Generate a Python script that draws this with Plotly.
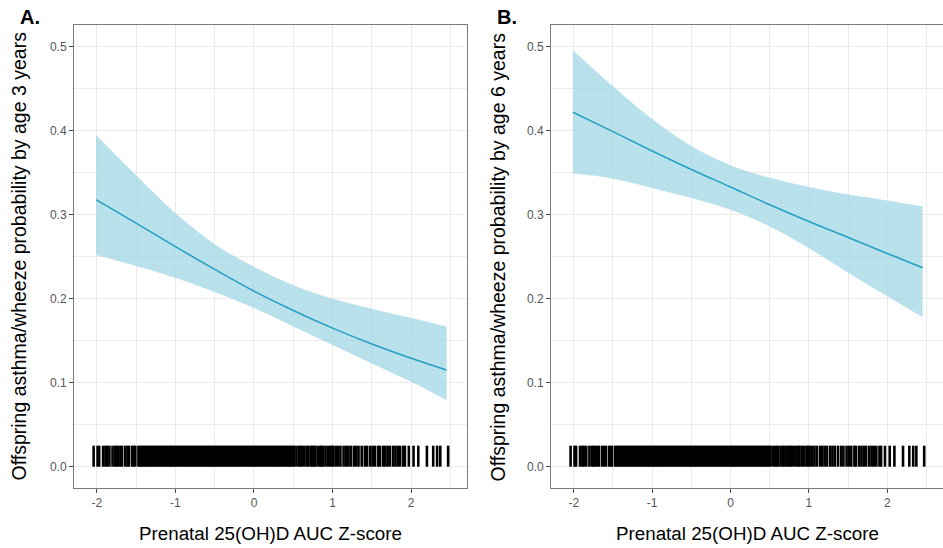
import plotly.graph_objects as go

# ---------------- data ----------------
x_grid = [-2.01, -1.5, -1.0, -0.5, 0.0, 0.5, 1.0, 1.5, 2.0, 2.45]

mean_A = [0.318, 0.290, 0.262, 0.235, 0.209, 0.186, 0.165, 0.146, 0.129, 0.115]
upper_A = [0.395, 0.347, 0.302, 0.265, 0.238, 0.216, 0.200, 0.188, 0.177, 0.167]
lower_A = [0.252, 0.239, 0.225, 0.208, 0.189, 0.167, 0.145, 0.123, 0.101, 0.079]

mean_B = [0.422, 0.399, 0.376, 0.354, 0.333, 0.312, 0.292, 0.273, 0.254, 0.237]
upper_B = [0.496, 0.453, 0.414, 0.382, 0.359, 0.344, 0.333, 0.324, 0.317, 0.310]
lower_B = [0.349, 0.343, 0.332, 0.320, 0.306, 0.286, 0.260, 0.231, 0.203, 0.178]

rug_x = [
    -2.04, -1.99, -1.97, -1.92, -1.89, -1.87, -1.84, -1.80, -1.77,
    -1.75, -1.73, -1.70, -1.68, -1.64, -1.61, -1.59, -1.55, -1.53, -1.51,
    -1.47, -1.45, -1.43, -1.41, -1.39, -1.37, -1.35, -1.33, -1.31, -1.29,
    -1.27, -1.25, -1.23, -1.21, -1.19, -1.17, -1.15, -1.13, -1.11, -1.09,
    -1.07, -1.05, -1.03, -1.01, -0.99, -0.97, -0.95, -0.93, -0.91, -0.89,
    -0.87, -0.85, -0.83, -0.81, -0.79, -0.77, -0.75, -0.73, -0.71, -0.69,
    -0.67, -0.65, -0.63, -0.61, -0.59, -0.57, -0.55, -0.53, -0.51, -0.49,
    -0.47, -0.45, -0.43, -0.41, -0.39, -0.37, -0.35, -0.33, -0.31, -0.29,
    -0.27, -0.25, -0.23, -0.21, -0.19, -0.17, -0.15, -0.13, -0.11, -0.09,
    -0.07, -0.05, -0.03, -0.01, 0.01, 0.03, 0.05, 0.07, 0.09, 0.11,
    0.13, 0.15, 0.17, 0.19, 0.21, 0.23, 0.25, 0.27, 0.29, 0.31,
    0.33, 0.35, 0.37, 0.39, 0.41, 0.43, 0.45, 0.47, 0.49, 0.51,
    0.54, 0.57, 0.59, 0.61, 0.64, 0.67, 0.69, 0.72, 0.74, 0.76,
    0.78, 0.81, 0.84, 0.86, 0.88, 0.91, 0.94, 0.97, 0.99, 1.01,
    1.04, 1.07, 1.10, 1.14, 1.17, 1.20, 1.23, 1.27, 1.30, 1.33,
    1.37, 1.41, 1.44, 1.48, 1.51, 1.54, 1.58, 1.60, 1.64, 1.67,
    1.70, 1.73, 1.77, 1.80, 1.83, 1.86, 1.90, 1.92, 1.97, 2.03,
    2.09, 2.20, 2.28, 2.33, 2.37, 2.47,
]
rug_top = 0.025

x_ticks = [-2, -1, 0, 1, 2]
y_ticks = [0.0, 0.1, 0.2, 0.3, 0.4, 0.5]

x_title = "Prenatal 25(OH)D AUC Z-score"
y_title_A = "Offspring asthma/wheeze probability by age 3 years"
y_title_B = "Offspring asthma/wheeze probability by age 6 years"
panel_labels = ["A.", "B."]

# ---------------- styling ----------------
W, H = 943, 548
FONT = "Liberation Sans, Arial, Helvetica, sans-serif"
BAND = "rgba(160,215,230,0.75)"
LINE = "rgb(38,160,192)"
GRID = "#ebebeb"
BORDER = "#7a7a7a"
TICKFONT = dict(family=FONT, size=12, color="#555555")

Y0, Y1 = -0.0254, 0.526
PLOT_TOP, PLOT_BOT = 25, 488
px_per_unit = (PLOT_BOT - PLOT_TOP) / (Y1 - Y0)
rug_px = rug_top * px_per_unit
# plotly's line-ns symbol spans 1.4 * size
rug_marker_size = rug_px / 1.4

fig = go.Figure()

panels = [
    ("x", "y", mean_A, upper_A, lower_A),
    ("x2", "y2", mean_B, upper_B, lower_B),
]

for xa, ya, m, u, l in panels:
    fig.add_trace(go.Scatter(x=x_grid, y=u, mode="lines", xaxis=xa, yaxis=ya,
                             line=dict(width=0, shape="spline", color=BAND),
                             showlegend=False, hoverinfo="skip"))
    fig.add_trace(go.Scatter(x=x_grid, y=l, mode="lines", xaxis=xa, yaxis=ya,
                             line=dict(width=0, shape="spline", color=BAND),
                             fill="tonexty", fillcolor=BAND,
                             showlegend=False, hoverinfo="skip"))
    fig.add_trace(go.Scatter(x=x_grid, y=m, mode="lines", xaxis=xa, yaxis=ya,
                             line=dict(width=1.6, shape="spline", color=LINE),
                             showlegend=False))
    fig.add_trace(go.Scatter(x=rug_x, y=[rug_top / 2] * len(rug_x),
                             mode="markers", xaxis=xa, yaxis=ya,
                             marker=dict(symbol="line-ns-open", size=rug_marker_size,
                                         color="black",
                                         line=dict(width=2.6, color="black")),
                             showlegend=False, hoverinfo="skip"))

x_dom_A = [74 / W, 467 / W]
x_dom_B = [551 / W, 1.0]
y_dom = [1 - PLOT_BOT / H, 1 - PLOT_TOP / H]

xaxis_common = dict(
    range=[-2.29, 2.71], tickmode="array", tickvals=x_ticks,
    ticktext=[str(t) for t in x_ticks],
    showgrid=True, gridcolor=GRID, gridwidth=1,
    minor=dict(dtick=0.5, tick0=0, showgrid=True, gridcolor=GRID, gridwidth=0.6),
    zeroline=False, showline=True, linecolor=BORDER, linewidth=1, mirror=True,
    ticks="outside", ticklen=4, tickcolor="#444", tickfont=TICKFONT,
)
yaxis_common = dict(
    range=[Y0, Y1], tickmode="array", tickvals=y_ticks,
    ticktext=[f"{t:.1f}" for t in y_ticks],
    showgrid=True, gridcolor=GRID, gridwidth=1,
    minor=dict(dtick=0.05, tick0=0, showgrid=True, gridcolor=GRID, gridwidth=0.6),
    zeroline=False, showline=True, linecolor=BORDER, linewidth=1, mirror=True,
    ticks="outside", ticklen=4, tickcolor="#444", tickfont=TICKFONT,
    domain=y_dom,
)

fig.update_layout(
    width=W, height=H, margin=dict(l=0, r=0, t=0, b=0),
    paper_bgcolor="white", plot_bgcolor="white",
    xaxis=dict(domain=x_dom_A, anchor="y", **xaxis_common),
    yaxis=dict(anchor="x", **yaxis_common),
    xaxis2=dict(domain=x_dom_B, anchor="y2", **xaxis_common),
    yaxis2=dict(anchor="x2", **yaxis_common),
    font=dict(family=FONT),
)

ann = []
for dom, ytxt, lbl, ylabx, lblx in [
    (x_dom_A, y_title_A, panel_labels[0], 18, 30),
    (x_dom_B, y_title_B, panel_labels[1], 497, 507),
]:
    ann.append(dict(text=x_title, x=(dom[0] + dom[1]) / 2, y=1 - 533 / H,
                    xref="paper", yref="paper", showarrow=False,
                    font=dict(family=FONT, size=18.8, color="black"),
                    xanchor="center", yanchor="middle"))
    ann.append(dict(text=ytxt, x=ylabx / W, y=(y_dom[0] + y_dom[1]) / 2,
                    xref="paper", yref="paper", showarrow=False, textangle=-90,
                    font=dict(family=FONT, size=19.5, color="black"),
                    xanchor="center", yanchor="middle"))
    ann.append(dict(text=f"<b>{lbl}</b>", x=lblx / W, y=1 - 17 / H,
                    xref="paper", yref="paper", showarrow=False,
                    font=dict(family=FONT, size=20, color="black"),
                    xanchor="center", yanchor="middle"))
fig.update_layout(annotations=ann)

fig.write_html("out.html")
